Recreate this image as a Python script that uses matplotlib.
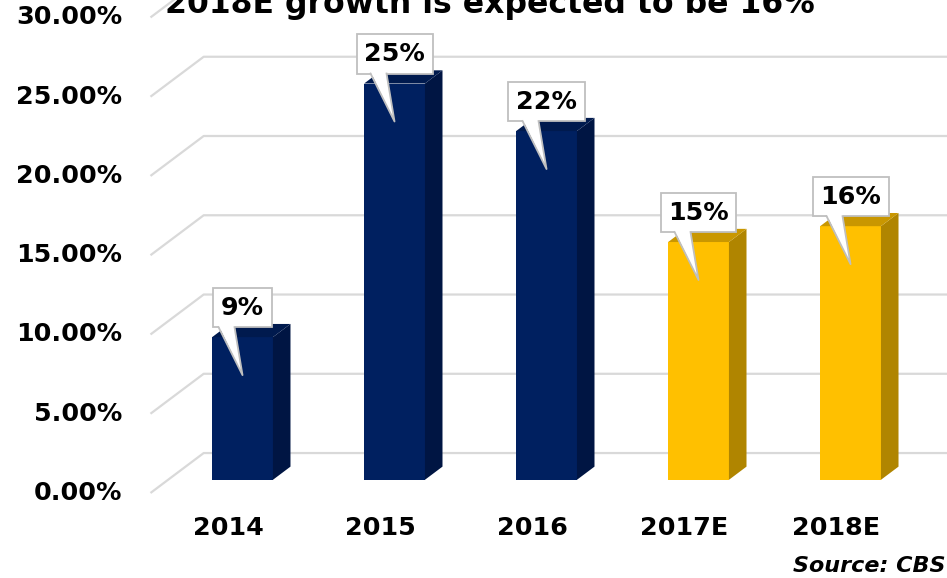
import matplotlib
matplotlib.use('Agg')
import matplotlib.pyplot as plt
import matplotlib.transforms as mtransforms
from matplotlib.patches import Polygon

years = ['2014', '2015', '2016', '2017E', '2018E']
growth = [9, 25, 22, 15, 16]          # annual growth, %
is_estimate = [False, False, False, True, True]
yticks = [0, 5, 10, 15, 20, 25, 30]
title = '2018E growth is expected to be 16%'
source = 'Source: CBS'

# face colours: front, side, top
NAVY = ('#002060', '#001543', '#001a4e')
GOLD = ('#FFC000', '#B08500', '#C99700')
GRID = '#d9d9d9'

# oblique projection - depth 1 moves a point right and up
DX, DY = 0.35, 2.52
D0, D1 = 0.33, 0.66        # bar front / back depth
HALF_W = 0.2
WALL_X = -0.49


def proj(x, y, d):
    return (x + d * DX, y + d * DY)


plt.rcParams['font.family'] = 'DejaVu Sans'
plt.rcParams['font.weight'] = 'bold'

fig = plt.figure(figsize=(9.47, 5.78), dpi=100)
ax = fig.add_axes([0, 0, 1, 1])
ax.set_xlim(-1.48, 4.75)
ax.set_ylim(-5.363, 31.10)
ax.axis('off')

# back wall gridlines with the slanted floor edge
for v in yticks:
    x0, y0 = proj(WALL_X, v, 0)
    x1, y1 = proj(WALL_X, v, 1)
    ax.plot([x0, x1, 6], [y0, y1, y1], color=GRID, lw=1.6, zorder=1,
            solid_capstyle='butt')
    ax.text(-0.678, v, f'{v:.2f}%', ha='right', va='center', fontsize=18.3)

for i, (yr, v, est) in enumerate(zip(years, growth, is_estimate)):
    front, side, top = GOLD if est else NAVY
    l, r = i - HALF_W, i + HALF_W
    faces = [
        ([proj(l, 0, D0), proj(r, 0, D0), proj(r, v, D0), proj(l, v, D0)], front),
        ([proj(r, 0, D0), proj(r, 0, D1), proj(r, v, D1), proj(r, v, D0)], side),
        ([proj(l, v, D0), proj(r, v, D0), proj(r, v, D1), proj(l, v, D1)], top),
    ]
    for verts, c in faces:
        ax.add_patch(Polygon(verts, closed=True, facecolor=c, edgecolor='none', zorder=2))

    ax.text(i + 0.02, -2.2, yr, ha='center', va='center', fontsize=18.3)

    # callout label above the bar, pointer down into the front face
    ax_x, ax_y = proj(i, v, D0)
    ax.annotate(f'{v}%', xy=(ax_x, ax_y), xytext=(0, 12.6), textcoords='offset points',
                ha='center', va='bottom', fontsize=18.3, zorder=5,
                bbox=dict(boxstyle='square,pad=0.3', facecolor='white',
                          edgecolor='#bfbfbf', lw=1.3))
    tr = fig.dpi_scale_trans + mtransforms.ScaledTranslation(ax_x, ax_y, ax.transData)
    tail = [(-0.24, 0.115), (-0.08, 0.115), (0.0, -0.38)]
    ax.add_patch(Polygon(tail, closed=True, facecolor='white', edgecolor='none',
                         transform=tr, zorder=6))
    ax.plot([-0.24, 0.0, -0.08], [0.10, -0.38, 0.10], color='#bfbfbf', lw=1.3,
            transform=tr, zorder=6)

fig.text(490 / 947, 1 - 13.5 / 578, title, ha='center', va='baseline', fontsize=22.7)
fig.text(945 / 947, 1 - 572 / 578, source, ha='right', va='baseline', fontsize=16,
         style='italic')

fig.savefig('out.png', dpi=100)
